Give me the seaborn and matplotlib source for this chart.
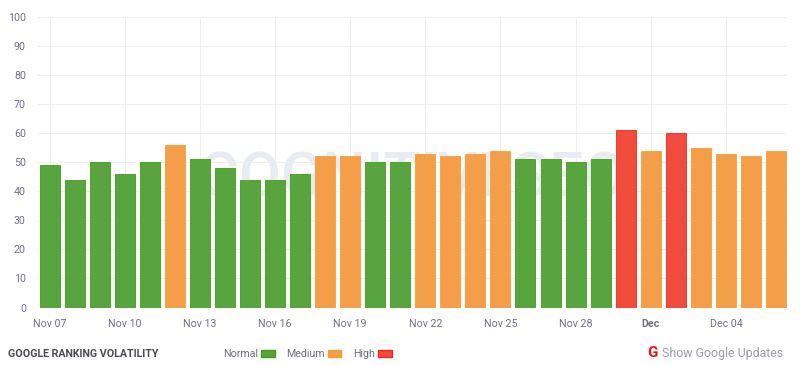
import matplotlib
matplotlib.use("Agg")
import matplotlib.pyplot as plt
from matplotlib.patches import Patch
import pandas as pd
import seaborn as sns

sns.set_theme(style="white")
plt.rcParams['font.family'] = ['Roboto', 'DejaVu Sans']

days = ["Nov %02d" % d for d in range(7, 31)] + ["Dec %02d" % d for d in range(1, 7)]
values = [49, 44, 50, 46, 50, 56, 51, 48, 44, 44, 46, 52, 52, 50, 50,
          53, 52, 53, 54, 51, 51, 50, 51, 61, 54, 60, 55, 53, 52, 54]
levels = ["Normal", "Normal", "Normal", "Normal", "Normal", "Medium", "Normal", "Normal",
          "Normal", "Normal", "Normal", "Medium", "Medium", "Normal", "Normal", "Medium",
          "Medium", "Medium", "Medium", "Normal", "Normal", "Normal", "Normal", "High",
          "Medium", "High", "Medium", "Medium", "Medium", "Medium"]
fills = {"Normal": "#58a43f", "Medium": "#f49e4a", "High": "#f04b3b"}
edges = {"Normal": "#3f9f12", "Medium": "#f99d2e", "High": "#ee2a22"}
tick_idx = [0, 3, 6, 9, 12, 15, 18, 21, 24, 27]
tick_text = ["Nov 07", "Nov 10", "Nov 13", "Nov 16", "Nov 19", "Nov 22", "Nov 25", "Nov 28", "Dec", "Dec 04"]

df = pd.DataFrame({"day": days, "value": values, "level": levels})

fig = plt.figure(figsize=(8, 3.65), dpi=100)
ax = fig.add_axes([37/800, 1-307.5/365, 750/800, 290.5/365])
ax.set_axisbelow(True)

ax.text(0.5, 0.44, "COGNITIVESEO", transform=ax.transAxes, ha="center", va="center",
        fontsize=44, color="#e9ebf3", zorder=0.5, fontweight="medium")

sns.barplot(data=df, x="day", y="value", hue="level", palette=fills, dodge=False, saturation=1,
            width=0.8, ax=ax, legend=False, order=days, hue_order=["Normal", "Medium", "High"],
            zorder=2)
for c, name in zip(ax.containers, ["Normal", "Medium", "High"]):
    for b in c:
        b.set_edgecolor(edges[name])
        b.set_linewidth(0.6)

ax.set_xlim(-0.5, 29.44)
ax.set_ylim(0, 100)
ax.set_xlabel("")
ax.set_ylabel("")
ax.set_yticks(range(0, 101, 10))
ax.set_xticks(tick_idx)
ax.set_xticklabels(tick_text)
ax.grid(True, color="#eeeef0", linewidth=0.7)
for s in ax.spines.values():
    s.set_visible(False)
ax.tick_params(axis="both", length=0, labelsize=7.7, labelcolor="#6f6f88")
ax.tick_params(axis="x", pad=8.5)
ax.tick_params(axis="y", pad=8)
for t, s in zip(ax.get_xticklabels(), tick_text):
    if s == "Dec":
        t.set_fontweight("bold")

fig.text(8/800, 1-354/365, "GOOGLE RANKING VOLATILITY", fontsize=7.7, fontweight="bold",
         color="#4a4a52", va="center", ha="left")

handles = [Patch(facecolor=fills[k], edgecolor=edges[k], label=k) for k in ["Normal", "Medium", "High"]]
leg = fig.legend(handles=handles, loc="center left", bbox_to_anchor=(223/800, 1-354/365), ncol=3,
                 frameon=False, markerfirst=False, fontsize=7.7, handlelength=1.3, handleheight=0.6,
                 handletextpad=0.25, columnspacing=1.1, borderpad=0, borderaxespad=0)
for t in leg.get_texts():
    t.set_color("#6f6f78")

fig.text(647/800, 1-353/365, "G", fontsize=11, fontweight="bold", color="#e8151b", va="center", ha="left")
fig.text(783/800, 1-354/365, "Show Google Updates", fontsize=8.9, color="#9a9ea6", va="center", ha="right")

fig.savefig("out.png", dpi=100)
